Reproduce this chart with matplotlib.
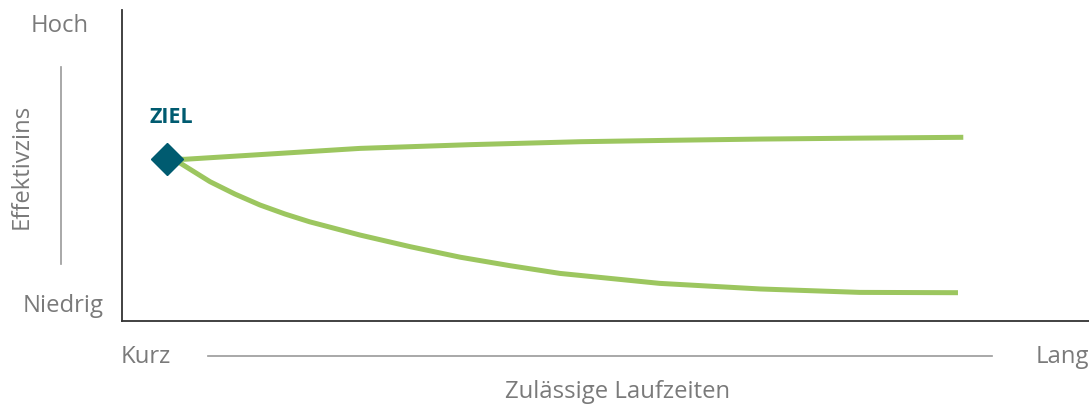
import matplotlib
matplotlib.use("Agg")
import matplotlib.pyplot as plt

# Data (axes units 0..100)
upper_x = [4.65, 6.5, 15.3, 24.6, 36.0, 47.4, 56.7, 66.0, 76.3, 87.0]
upper_y = [52.1, 52.0, 53.7, 55.5, 56.7, 57.65, 58.1, 58.5, 58.8, 59.07]
lower_x = [4.65, 6.0, 9.1, 11.69, 14.27, 16.86, 19.4, 24.6, 29.8, 35.0, 40.1, 45.3, 55.6, 66.0, 76.3, 86.45]
lower_y = [52.1, 50.8, 44.8, 40.8, 37.3, 34.4, 31.9, 27.65, 23.9, 20.5, 17.8, 15.3, 12.1, 10.3, 9.2, 9.1]
target_x = [4.65]
target_y = [52.1]

GREEN = "#9cc65f"
TEAL = "#005b70"
GRAY = "#7a7a7a"

plt.rcParams['font.family'] = ['Open Sans', 'DejaVu Sans']

fig = plt.figure(figsize=(10.89, 4.05), dpi=100)
ax = fig.add_axes([122/1089, (405-321)/405, 967/1089, 311/405])
ax.set_xlim(0, 100)
ax.set_ylim(0, 100)

ax.plot(upper_x, upper_y, color=GREEN, lw=3.6, solid_capstyle='butt',
        solid_joinstyle='round', zorder=2)
ax.plot(lower_x, lower_y, color=GREEN, lw=3.6, solid_capstyle='butt',
        solid_joinstyle='round', zorder=2)
ax.plot(target_x, target_y, marker='D', ms=16.8, color=TEAL, ls='none', zorder=3)
ax.text(target_x[0] + 0.4, target_y[0] + 9.8, "ZIEL", color=TEAL, fontsize=15.5,
        fontweight='bold', ha='center', va='bottom')

for s in ['top', 'right']:
    ax.spines[s].set_visible(False)
for s in ['left', 'bottom']:
    ax.spines[s].set_color('#333333')
    ax.spines[s].set_linewidth(1.3)
ax.set_xticks([])
ax.set_yticks([])

# Outer annotations in figure pixel coords
def fx(px):
    return px / 1089
def fy(py):
    return 1 - py / 405

FS = 17.2
fig.text(fx(60), fy(26), "Hoch", color=GRAY, fontsize=FS, ha='center', va='center')
fig.text(fx(63), fy(306), "Niedrig", color=GRAY, fontsize=FS, ha='center', va='center')
fig.text(fx(22), fy(166), "Effektivzins", color=GRAY, fontsize=FS, ha='center', va='center',
         rotation=90)
fig.add_artist(plt.Line2D([fx(61), fx(61)], [fy(67), fy(264)], color='#999999', lw=1.2))

fig.text(fx(121), fy(357), "Kurz", color=GRAY, fontsize=FS, ha='left', va='center')
fig.text(fx(1089), fy(357), "Lang", color=GRAY, fontsize=FS, ha='right', va='center')
fig.add_artist(plt.Line2D([fx(208), fx(992)], [fy(356), fy(356)], color='#999999', lw=1.2))
fig.text(fx(618), fy(392), "Zulässige Laufzeiten", color=GRAY, fontsize=FS, ha='center',
         va='center')

fig.savefig("out.png", dpi=100)
